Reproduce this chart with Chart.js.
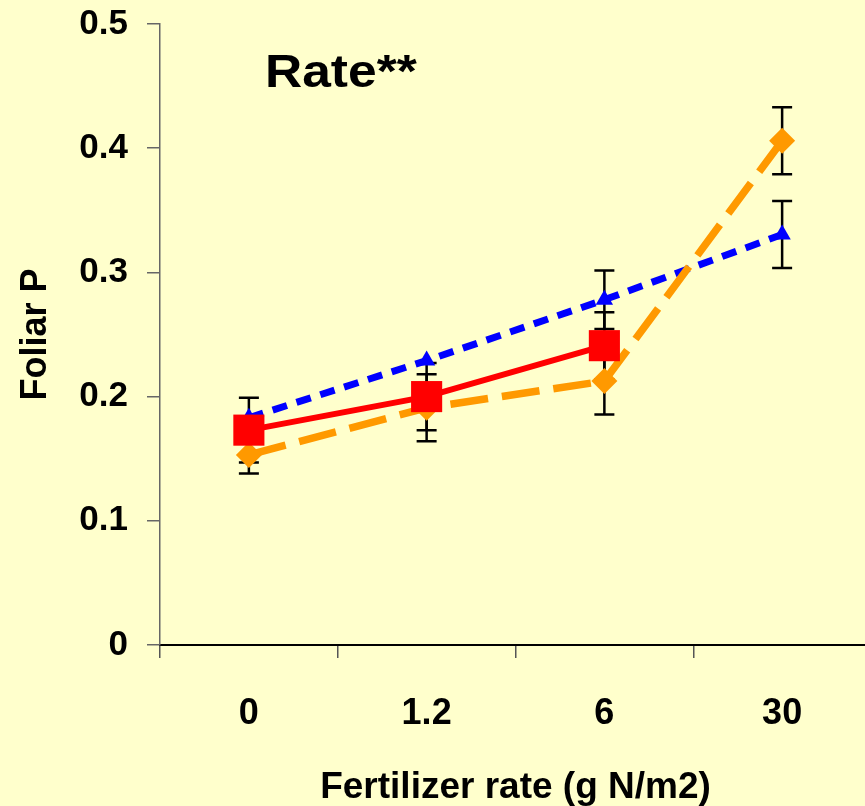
<!DOCTYPE html>
<html>
<head>
<meta charset="utf-8">
<script src="https://cdn.jsdelivr.net/npm/chart.js@4.4.0/dist/chart.umd.min.js"></script>
<style>
  html, body { margin: 0; padding: 0; background: #FFFFCC; overflow: hidden; }
  #wrap { position: relative; width: 893px; height: 822px; margin-top: -16px; }
</style>
</head>
<body>
<div id="wrap"><canvas id="c"></canvas></div>
<script>
// fertilizer rate categories (g N/m2)
const rates = ["0", "1.2", "6", "30"];

// foliar P means + error (+/-) for each series
const redP = [0.173, 0.200, 0.241, null];
const redErr = [0.026, 0.027, 0.027, null];
const orangeP = [0.153, 0.191, 0.2125, 0.406];
const orangeErr = [0.015, 0.027, 0.027, 0.027];
const blueP = [0.183, 0.229, 0.278, 0.3305];
const blueErr = [null, null, 0.0235, 0.027];

const yTicks = [0, 0.1, 0.2, 0.3, 0.4, 0.5];

const FONT = "'Liberation Sans', Arial, sans-serif";

// error bars, drawn under the lines/markers
const errorBars = {
  id: "errorBars",
  beforeDatasetsDraw(chart) {
    const { ctx, scales: { x, y } } = chart;
    ctx.save();
    ctx.strokeStyle = "#000";
    ctx.lineWidth = 2.5;
    chart.data.datasets.forEach(ds => {
      (ds.err || []).forEach((e, i) => {
        const v = ds.data[i];
        if (e == null || v == null) return;
        const px = x.getPixelForValue(i);
        const top = y.getPixelForValue(v + e);
        const bot = y.getPixelForValue(v - e);
        ctx.beginPath();
        ctx.moveTo(px, top); ctx.lineTo(px, bot);
        ctx.moveTo(px - 10, top); ctx.lineTo(px + 10, top);
        ctx.moveTo(px - 10, bot); ctx.lineTo(px + 10, bot);
        ctx.stroke();
      });
    });
    ctx.restore();
  }
};

// "Rate**" label inside the plot (canvas is shifted up 16px by css)
const rateLabel = {
  id: "rateLabel",
  afterDraw(chart) {
    const ctx = chart.ctx;
    ctx.save();
    ctx.fillStyle = "#000";
    ctx.font = "bold 46px " + FONT;
    ctx.textBaseline = "alphabetic";
    ctx.translate(265, 103);
    ctx.scale(1.12, 1);
    ctx.fillText("Rate**", 0, 0);
    ctx.restore();
  }
};

new Chart(document.getElementById("c"), {
  type: "line",
  data: {
    labels: rates,
    datasets: [
      {
        label: "red",
        data: redP,
        err: redErr,
        borderColor: "#FF0000",
        backgroundColor: "#FF0000",
        borderWidth: 6,
        pointStyle: "rect",
        pointRadius: 22,
        pointHoverRadius: 22,
        pointBorderWidth: 0
      },
      {
        label: "orange",
        data: orangeP,
        err: orangeErr,
        borderColor: "#FF9900",
        backgroundColor: "#FF9900",
        borderWidth: 7.5,
        borderDash: [38, 14],
        pointStyle: "rectRot",
        pointRadius: 13,
        pointHoverRadius: 13,
        pointBorderWidth: 0
      },
      {
        label: "blue",
        data: blueP,
        err: blueErr,
        borderColor: "#0000FF",
        backgroundColor: "#0000FF",
        borderWidth: 7,
        borderDash: [15, 10],
        pointStyle: "triangle",
        pointRadius: 10,
        pointHoverRadius: 10,
        pointBorderWidth: 0
      }
    ]
  },
  options: {
    responsive: true,
    maintainAspectRatio: false,
    animation: false,
    layout: { padding: 0 },
    plugins: { legend: { display: false }, tooltip: { enabled: false } },
    scales: {
      x: {
        offset: true,
        grid: { offset: true, drawOnChartArea: false, drawTicks: true, tickLength: 13, color: "#555", lineWidth: 1.5 },
        border: { display: true, color: "#000", width: 2 },
        ticks: { color: "#000", padding: 34, font: { family: FONT, size: 36, weight: "bold" } },
        title: {
          display: true,
          text: "Fertilizer rate (g N/m2)",
          color: "#000",
          font: { family: FONT, size: 37, weight: "bold", lineHeight: 1 },
          padding: { top: 0, bottom: 0 }
        },
        afterFit(scale) { scale.height = 161; }
      },
      y: {
        min: 0,
        max: 0.5,
        afterBuildTicks(scale) { scale.ticks = yTicks.map(v => ({ value: v })); },
        grid: { drawOnChartArea: false, drawTicks: true, tickLength: 13, color: "#666", lineWidth: 1.5 },
        border: { display: true, color: "#666", width: 1.5 },
        ticks: { color: "#000", padding: 19, font: { family: FONT, size: 35, weight: "bold" } },
        title: {
          display: true,
          text: "Foliar P",
          color: "#000",
          font: { family: FONT, size: 36, weight: "bold", lineHeight: 1 },
          padding: { top: 18, bottom: 0 }
        },
        afterFit(scale) { scale.width = 160; }
      }
    }
  },
  plugins: [errorBars, rateLabel]
});
</script>
</body>
</html>
